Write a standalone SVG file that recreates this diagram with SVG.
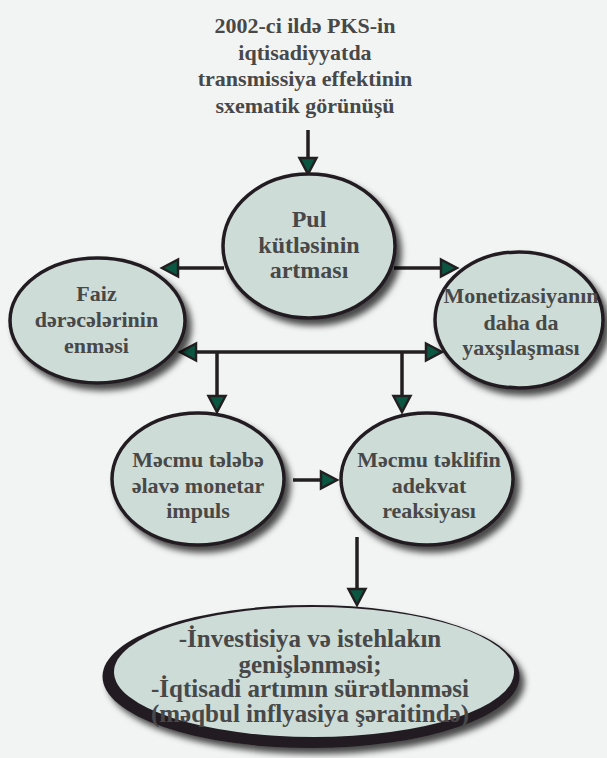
<svg xmlns="http://www.w3.org/2000/svg" width="607" height="758" viewBox="0 0 607 758">
<style>
.bg{fill:#f2f4f3}
.node{fill:#cddcd7;stroke:#231f20;stroke-width:3.5}
.t{font-family:"Liberation Serif","Times New Roman",serif;font-weight:bold;fill:#484848;text-anchor:middle}
.s22{font-size:22px}
.s24{font-size:24px}
.s25{font-size:25px}
.conn{fill:none;stroke:#231f20;stroke-width:3.5}
</style>
<defs>
<filter id="sh" x="-20%" y="-20%" width="150%" height="150%">
<feGaussianBlur in="SourceAlpha" stdDeviation="3"/>
<feOffset dx="5" dy="6" result="b"/>
<feFlood flood-color="#000" flood-opacity="0.7"/>
<feComposite in2="b" operator="in"/>
<feMerge><feMergeNode/><feMergeNode in="SourceGraphic"/></feMerge>
</filter>
<marker id="ah" markerUnits="userSpaceOnUse" markerWidth="20" markerHeight="20" viewBox="-2 -10 20 20" refX="0" refY="0" orient="auto-start-reverse" overflow="visible">
<path d="M0,-8.5 L16,0 L0,8.5 Z" fill="#0a5641" stroke="#231f20" stroke-width="2.5" stroke-linejoin="miter"/>
</marker>
</defs>
<rect class="bg" x="0" y="0" width="607" height="758"/>

<g id="title">
<text class="t s22" x="305" y="33">2002-ci ildə PKS-in</text>
<text class="t s22" x="305" y="59.5">iqtisadiyyatda</text>
<text class="t s22" x="305" y="86">transmissiya effektinin</text>
<text class="t s22" x="305" y="112.5">sxematik görünüşü</text>
</g>

<g id="connectors">
<line class="conn" x1="308" y1="130" x2="308" y2="158" marker-end="url(#ah)"/>
<line class="conn" x1="224" y1="268" x2="178" y2="268" marker-end="url(#ah)"/>
<line class="conn" x1="394" y1="268" x2="441" y2="268" marker-end="url(#ah)"/>
<line class="conn" x1="196" y1="352" x2="426" y2="352" marker-start="url(#ah)" marker-end="url(#ah)"/>
<line class="conn" x1="217" y1="352" x2="217" y2="396" marker-end="url(#ah)"/>
<line class="conn" x1="402" y1="352" x2="402" y2="396" marker-end="url(#ah)"/>
<line class="conn" x1="293" y1="480" x2="321" y2="480" marker-end="url(#ah)"/>
<line class="conn" x1="357" y1="537" x2="357" y2="589" marker-end="url(#ah)"/>
</g>

<g id="pul">
<ellipse class="node" cx="309" cy="246" rx="86" ry="72" filter="url(#sh)"/>
<text class="t s24" x="309" y="227">Pul</text>
<text class="t s24" x="309" y="253">kütləsinin</text>
<text class="t s24" x="309" y="278">artması</text>
</g>

<g id="faiz">
<ellipse class="node" cx="97.5" cy="320.5" rx="87.5" ry="62.5" filter="url(#sh)"/>
<text class="t s22" x="96.5" y="300.5">Faiz</text>
<text class="t s22" x="96.5" y="327">dərəcələrinin</text>
<text class="t s22" x="96.5" y="352.5">enməsi</text>
</g>

<g id="monetizasiya">
<ellipse class="node" cx="519" cy="320" rx="84" ry="68" filter="url(#sh)"/>
<text class="t s22" x="521" y="303">Monetizasiyanın</text>
<text class="t s22" x="521" y="330">daha da</text>
<text class="t s22" x="521" y="355">yaxşılaşması</text>
</g>

<g id="telebe">
<ellipse class="node" cx="198" cy="479" rx="86" ry="66" filter="url(#sh)"/>
<text class="t s22" x="198" y="467">Məcmu tələbə</text>
<text class="t s22" x="198" y="493">əlavə monetar</text>
<text class="t s22" x="198" y="518">impuls</text>
</g>

<g id="teklif">
<ellipse class="node" cx="427" cy="479" rx="86" ry="66" filter="url(#sh)"/>
<text class="t s22" x="429" y="467">Məcmu təklifin</text>
<text class="t s22" x="429" y="493">adekvat</text>
<text class="t s22" x="429" y="518">reaksiyası</text>
</g>

<g id="netice">
<ellipse cx="311" cy="676.5" rx="208.5" ry="71.5" fill="#231f20" filter="url(#sh)"/>
<ellipse cx="314" cy="672" rx="200" ry="65" fill="#cddcd7"/>
<text class="t s25" x="310" y="647">-İnvestisiya və istehlakın</text>
<text class="t s25" x="310" y="672.5">genişlənməsi;</text>
<text class="t s25" x="310" y="697">-İqtisadi artımın sürətlənməsi</text>
<text class="t s25" x="310" y="722">(məqbul inflyasiya şəraitində)</text>
</g>
</svg>
